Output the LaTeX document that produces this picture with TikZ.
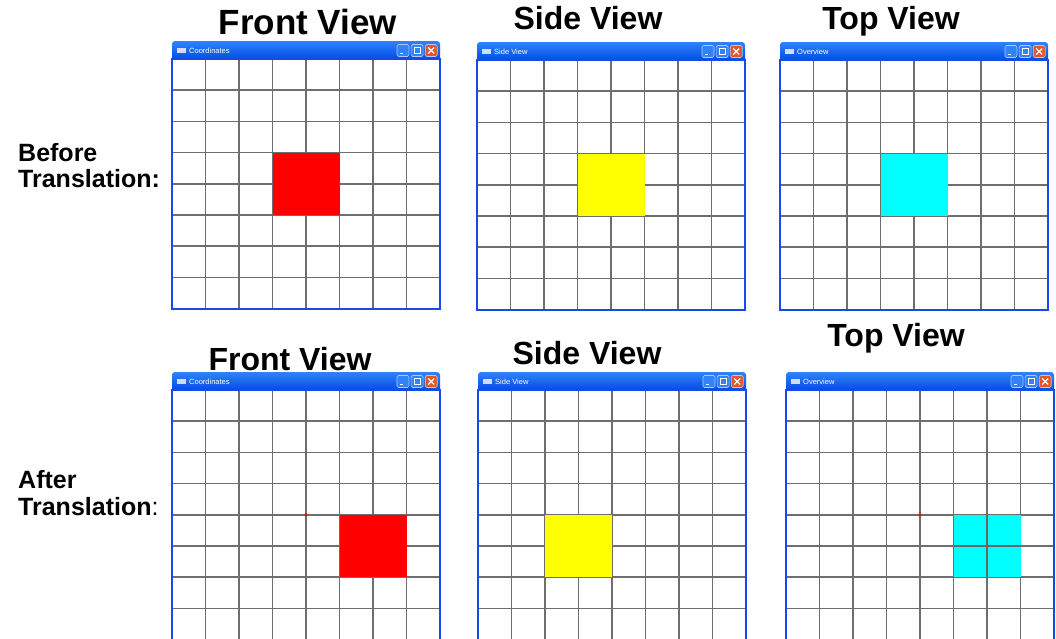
\documentclass[tikz,border=0pt]{standalone}
\usepackage{fontspec}
\setmainfont{Liberation Sans}
\usetikzlibrary{positioning}

\definecolor{xpblue}{RGB}{0,78,226}
\definecolor{xplight}{RGB}{50,130,250}
\definecolor{xpframe}{RGB}{25,72,235}
\definecolor{xpclose}{RGB}{228,86,40}
\definecolor{gridgray}{RGB}{110,110,110}
\definecolor{boxred}{RGB}{255,0,0}
\definecolor{boxyellow}{RGB}{255,255,0}
\definecolor{boxcyan}{RGB}{0,255,255}

% one XP style window: left, top, title, name, contents
\newcommand{\xpwindow}[5]{%
  \begin{scope}[shift={(#1,#2)}]
    \fill[white] (0,18) rectangle (268,268);
    \foreach \i in {1,...,7} \draw[gridline] (\i*33.5,18) -- (\i*33.5,268);
    \foreach \j in {1,...,7} \draw[gridline] (0,18+\j*31.2) -- (268,18+\j*31.2);
    #5
    \shade[top color=xplight, bottom color=xpblue] (0,18) -- (0,3) arc[start angle=180, end angle=90, radius=3pt]
      -- (265,0) arc[start angle=90, end angle=0, radius=3pt] -- (268,18) -- cycle;
    \draw[xpframe, line width=2.5pt] (0,18) rectangle (268,268);
    \fill[white!80!xpblue] (5,7) rectangle (14,12);
    \node[wintitle] (#4title) at (17,9.5) {#3};
    \node[xpbtn] (#4min) at (231,9.5) {};
    \draw[white, line width=1.2pt] ([xshift=-3pt,yshift=-3pt]#4min.center) -- ++(3,0);
    \node[xpbtn, right=1.5pt of #4min] (#4max) {};
    \draw[white, line width=0.8pt] ([xshift=-3pt,yshift=-3pt]#4max.center) rectangle ([xshift=3pt,yshift=3pt]#4max.center);
    \node[xpbtn, fill=xpclose, right=1.5pt of #4max] (#4close) {};
    \draw[white, line width=1.2pt] ([xshift=-3pt,yshift=-3pt]#4close.center) -- ([xshift=3pt,yshift=3pt]#4close.center)
      ([xshift=-3pt,yshift=3pt]#4close.center) -- ([xshift=3pt,yshift=-3pt]#4close.center);
  \end{scope}}

\begin{document}
\begin{tikzpicture}[x=1pt, y=-1pt,
  gridline/.style={draw=gridgray, line width=1.5pt},
  view/.style={font=\fontsize{32}{36}\selectfont\bfseries, inner sep=0pt, anchor=base},
  side/.style={font=\fontsize{25}{28}\selectfont, inner sep=0pt, anchor=base west},
  wintitle/.style={font=\fontsize{7.5}{8}\selectfont, text=white, inner sep=0pt, anchor=west},
  xpbtn/.style={draw=white!70!xpblue, line width=0.6pt, fill=xplight, rounded corners=1.5pt,
                minimum size=12pt, inner sep=0pt}
]
\useasboundingbox (0,0) rectangle (1056,638);
\clip (0,0) rectangle (1056,638);

% before translation
\xpwindow{172}{41}{Coordinates}{fa}{\fill[boxred] (3*33.5,18+3*31.2) rectangle (5*33.5,18+5*31.2);}
\xpwindow{477}{42}{Side View}{sa}{\fill[boxyellow] (3*33.5,18+3*31.2) rectangle (5*33.5,18+5*31.2);}
\xpwindow{780}{42}{Overview}{ta}{\fill[boxcyan] (3*33.5,18+3*31.2) rectangle (5*33.5,18+5*31.2);}

% after translation
\xpwindow{172}{372}{Coordinates}{fb}{\fill[boxred] (5*33.5,18+4*31.2) rectangle (7*33.5,18+6*31.2);
  \fill[boxred] (4*33.5,18+4*31.2) circle[radius=1.6pt];}
\xpwindow{478}{372}{Side View}{sb}{\fill[boxyellow] (2*33.5,18+4*31.2) rectangle (4*33.5,18+6*31.2);}
\xpwindow{786}{372}{Overview}{tb}{\fill[boxcyan] (5*33.5,18+4*31.2) rectangle (7*33.5,18+6*31.2);
  \draw[gridline, draw=black!60] (6*33.5,18+4*31.2) -- (6*33.5,18+6*31.2) (5*33.5,18+5*31.2) -- (7*33.5,18+5*31.2);
  \fill[boxred] (4*33.5,18+4*31.2) circle[radius=1.6pt];}

% view titles
\node[view, font=\fontsize{35}{40}\selectfont\bfseries] (front1) at (308,34) {Front View};
\node[view] (side1) at (588,29) {Side View};
\node[view] (top1) at (891,29) {Top View};
\node[view] (front2) at (290,370) {Front View};
\node[view] (side2) at (587,364) {Side View};
\node[view] (top2) at (896,346) {Top View};

% row labels
\node[side] (before) at (18,161) {\textbf{Before}};
\node[side] (trans1) at (18,187) {\textbf{Translation:}};
\node[side] (after) at (18,488) {\textbf{After}};
\node[side] (trans2) at (18,515) {\textbf{Translation}:};
\end{tikzpicture}
\end{document}
